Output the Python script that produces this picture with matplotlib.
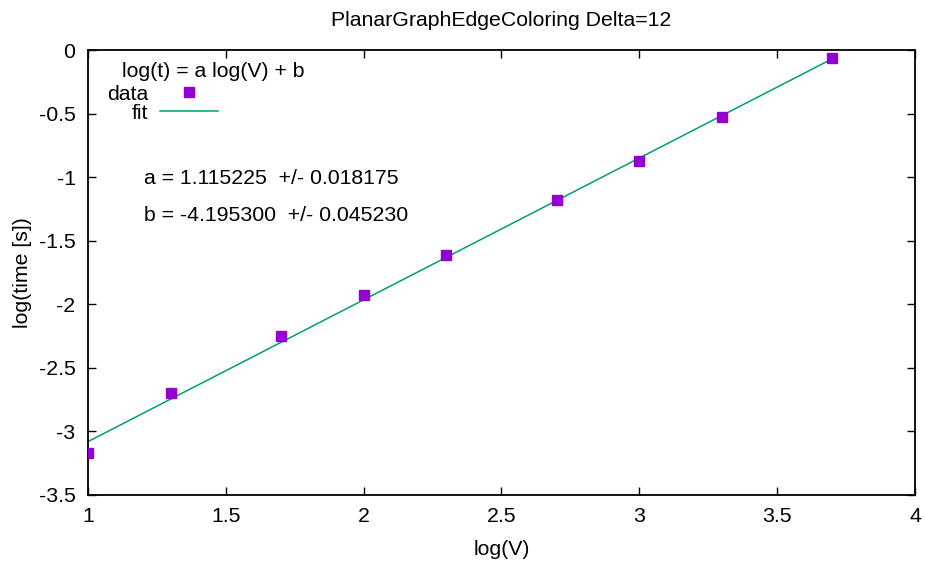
"""
PlanarGraphEdgeColoring Delta=12 : log-log 拟合图
"""

import numpy as np
import matplotlib
matplotlib.use("Agg")
import matplotlib.pyplot as plt

# ========== 数据 ==========

log_v = [1.0, 1.3, 1.7, 2.0, 2.3, 2.7, 3.0, 3.3, 3.7]
log_t = [-3.17, -2.70, -2.25, -1.925, -1.615, -1.18, -0.87, -0.53, -0.065]

fit_a = 1.115225
fit_a_err = 0.018175
fit_b = -4.195300
fit_b_err = 0.045230

x_ticks = [1, 1.5, 2, 2.5, 3, 3.5, 4]
y_ticks = [0, -0.5, -1, -1.5, -2, -2.5, -3, -3.5]

# ========== 绘图 ==========

plt.rcParams["font.family"] = ["Liberation Sans", "DejaVu Sans"]
plt.rcParams["font.size"] = 15.3

fig = plt.figure(figsize=(9.25, 5.62), dpi=100)
ax = fig.add_axes([88 / 925, 1 - 495 / 562, 827 / 925, 445 / 562])

ax.plot(log_v, log_t, linestyle="none", marker="s", markersize=7,
        color="#9400d3", label="data", zorder=3)

x_fit = np.array([log_v[0], log_v[-1]])
ax.plot(x_fit, fit_a * x_fit + fit_b, color="#009e73", lw=1.1, label="fit", zorder=2)

ax.set_xlim(1, 4)
ax.set_ylim(-3.5, 0)
ax.set_xticks(x_ticks)
ax.set_xticklabels([f"{v:g}" for v in x_ticks])
ax.set_yticks(y_ticks)
ax.set_yticklabels([f"{v:g}" for v in y_ticks])
ax.tick_params(direction="in", length=6, width=1, top=True, right=True, pad=9)
for sp in ax.spines.values():
    sp.set_linewidth(1.3)

ax.set_title("PlanarGraphEdgeColoring Delta=12", fontsize=15.3, pad=17)
ax.set_xlabel("log(V)", labelpad=10)
ax.set_ylabel("log(time [s])")
ax.yaxis.set_label_coords(-0.0677, 0.5)

# 图例（文字在左，样例在右）
ax.text(0.041, 0.9506, "log(t) = a log(V) + b", transform=ax.transAxes,
        ha="left", va="center")
ax.legend(loc="upper left", bbox_to_anchor=(0.005, 0.955), frameon=False,
          markerfirst=False, numpoints=1, handlelength=2.7,
          handletextpad=0.57, labelspacing=0.0, borderaxespad=0.3)

ax.text(0.0677, 0.712, f"a = {fit_a:.6f}  +/- {fit_a_err:.6f}",
        transform=ax.transAxes, ha="left", va="center")
ax.text(0.0677, 0.627, f"b = {fit_b:.6f}  +/- {fit_b_err:.6f}",
        transform=ax.transAxes, ha="left", va="center")

fig.savefig("out.png", dpi=100)
plt.close(fig)
